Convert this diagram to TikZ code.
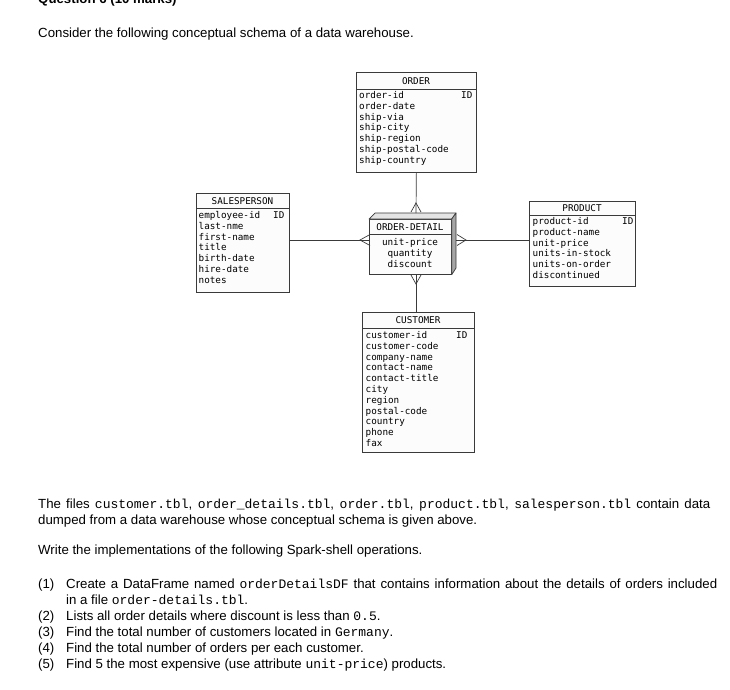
\documentclass[tikz,border=0pt]{standalone}
\usepackage{fontspec}
\setmainfont{Liberation Sans}
\setmonofont{Liberation Mono}
\newfontfamily\dmono{DejaVu Sans Mono}
\definecolor{linec}{HTML}{3A3A3A}
\definecolor{boxc}{HTML}{FCFCFC}
\definecolor{topc}{HTML}{E4E4E4}
\definecolor{sidec}{HTML}{A6A6A6}
\newcommand{\cw}[1]{{\fontsize{13}{16}\selectfont\ttfamily #1}}
\begin{document}
\begin{tikzpicture}[x=1pt,y=-1pt,
  ent/.style={draw=linec, fill=boxc, line width=0.7pt, inner sep=0pt, anchor=north west},
  ttl/.style={font=\dmono\fontsize{9.3}{10.8}\selectfont, inner sep=0pt, anchor=base},
  attr/.style={font=\dmono\fontsize{9.3}{10.8}\selectfont, inner sep=0pt, anchor=base west},
  attrc/.style={font=\dmono\fontsize{9.3}{10.8}\selectfont, inner sep=0pt, anchor=base},
  body/.style={font=\fontsize{13.25}{16}\selectfont, inner sep=0pt, anchor=base west},
  sepl/.style={draw=linec, line width=0.6pt},
  conn/.style={draw=linec, line width=0.7pt},
  crow/.style={draw=linec, line width=0.7pt, line join=miter}]
\useasboundingbox (0,0) rectangle (730,689);

% ---------- header text ----------
\node[body, font=\fontsize{13.25}{16}\selectfont\bfseries] (q) at (38,3) {Question 6 (10 marks)};
\node[body] (t1) at (38,37) {Consider the following conceptual schema of a data warehouse.};

% ---------- ORDER ----------
\node[ent, minimum width=120, minimum height=100] (order) at (356,72) {};
\node[ttl] (orderT) at (416,84.5) {ORDER};
\draw[sepl] ([yshift=-17pt]order.north west) -- ([yshift=-17pt]order.north east);
\foreach \t [count=\i from 0] in {order-id,order-date,ship-via,ship-city,ship-region,ship-postal-code,ship-country}
  \node[attr] (order-\i) at (359,98.5+10.8*\i) {\t};
\node[attr] (orderID) at (461,98.5) {ID};

% ---------- SALESPERSON ----------
\node[ent, minimum width=93, minimum height=99] (sp) at (196,193) {};
\node[ttl] (spT) at (242.5,204.5) {SALESPERSON};
\draw[sepl] ([yshift=-15pt]sp.north west) -- ([yshift=-15pt]sp.north east);
\foreach \t [count=\i from 0] in {employee-id,last-nme,first-name,title,birth-date,hire-date,notes}
  \node[attr] (sp-\i) at (198.5,218.5+10.8*\i) {\t};
\node[attr] (spID) at (273,218.5) {ID};

% ---------- PRODUCT ----------
\node[ent, minimum width=106, minimum height=85] (prod) at (529,201) {};
\node[ttl] (prodT) at (582,211.5) {PRODUCT};
\draw[sepl] ([yshift=-14pt]prod.north west) -- ([yshift=-14pt]prod.north east);
\foreach \t [count=\i from 0] in {product-id,product-name,unit-price,units-in-stock,units-on-order,discontinued}
  \node[attr] (prod-\i) at (532.5,224.5+10.8*\i) {\t};
\node[attr] (prodID) at (622,224.5) {ID};

% ---------- CUSTOMER ----------
\node[ent, minimum width=112, minimum height=140] (cust) at (362,312) {};
\node[ttl] (custT) at (418,323.5) {CUSTOMER};
\draw[sepl] ([yshift=-16pt]cust.north west) -- ([yshift=-16pt]cust.north east);
\foreach \t [count=\i from 0] in {customer-id,customer-code,company-name,contact-name,contact-title,city,region,postal-code,country,phone,fax}
  \node[attr] (cust-\i) at (365.5,338.5+10.8*\i) {\t};
\node[attr] (custID) at (456,338.5) {ID};

% ---------- ORDER-DETAIL (3D box) ----------
\node[ent, minimum width=82, minimum height=55] (od) at (369,219) {};
\filldraw[fill=topc, draw=linec, line width=0.7pt, line join=round] (od.north west) -- (375,213) -- (456,213) -- (od.north east) -- cycle;
\filldraw[fill=sidec, draw=linec, line width=0.7pt, line join=round] (od.north east) -- (456,213) -- (456,268) -- (od.south east) -- cycle;
\node[ttl] (odT) at (410,230.5) {ORDER-DETAIL};
\draw[sepl] ([yshift=-15pt]od.north west) -- ([yshift=-15pt]od.north east);
\node[attrc] (od-0) at (410,245.5) {unit-price};
\node[attrc] (od-1) at (410,256.3) {quantity};
\node[attrc] (od-2) at (410,267.1) {discount};

\coordinate (odTop) at (416,213);
\coordinate (odBot) at (416,274);
\coordinate (odL) at (369,240);
\coordinate (odR) at (456,240);

% ---------- connectors ----------
\draw[conn] (order.south) -- (odTop);
\draw[conn] (odBot) -- (odBot |- cust.north);
\draw[conn] (sp.east |- odL) -- (odL);
\draw[conn] (odR) -- (odR -| prod.west);

% crow's feet
\draw[crow] (411,212) -- (416,203) -- (421,212);
\draw[crow] (411,275) -- (416,284) -- (421,275);
\draw[crow] (370,234.5) -- (360,240) -- (370,245.5);
\draw[crow] (457,234.5) -- (466,240) -- (457,245.5);

% ---------- body text ----------
\node[body] (t2) at (38,508) {\makebox[672pt][s]{The files \cw{customer.tbl}, \cw{order\_details.tbl}, \cw{order.tbl}, \cw{product.tbl}, \cw{salesperson.tbl} contain data}};
\node[body] (t3) at (38,524) {dumped from a data warehouse whose conceptual schema is given above.};
\node[body] (t4) at (38,554) {Write the implementations of the following Spark-shell operations.};

\node[body] (n1) at (38,588) {(1)};
\node[body] (i1) at (66,588) {\makebox[651pt][s]{Create a DataFrame named \cw{orderDetailsDF} that contains information about the details of orders included}};
\node[body] (i1b) at (66,604) {in a file \cw{order-details.tbl}.};
\node[body] (n2) at (38,620) {(2)};
\node[body] (i2) at (66,620) {Lists all order details where discount is less than \cw{0.5}.};
\node[body] (n3) at (38,636) {(3)};
\node[body] (i3) at (66,636) {Find the total number of customers located in \cw{Germany}.};
\node[body] (n4) at (38,652) {(4)};
\node[body] (i4) at (66,652) {Find the total number of orders per each customer.};
\node[body] (n5) at (38,668) {(5)};
\node[body] (i5) at (66,668) {Find 5 the most expensive (use attribute \cw{unit-price}) products.};
\end{tikzpicture}
\end{document}
